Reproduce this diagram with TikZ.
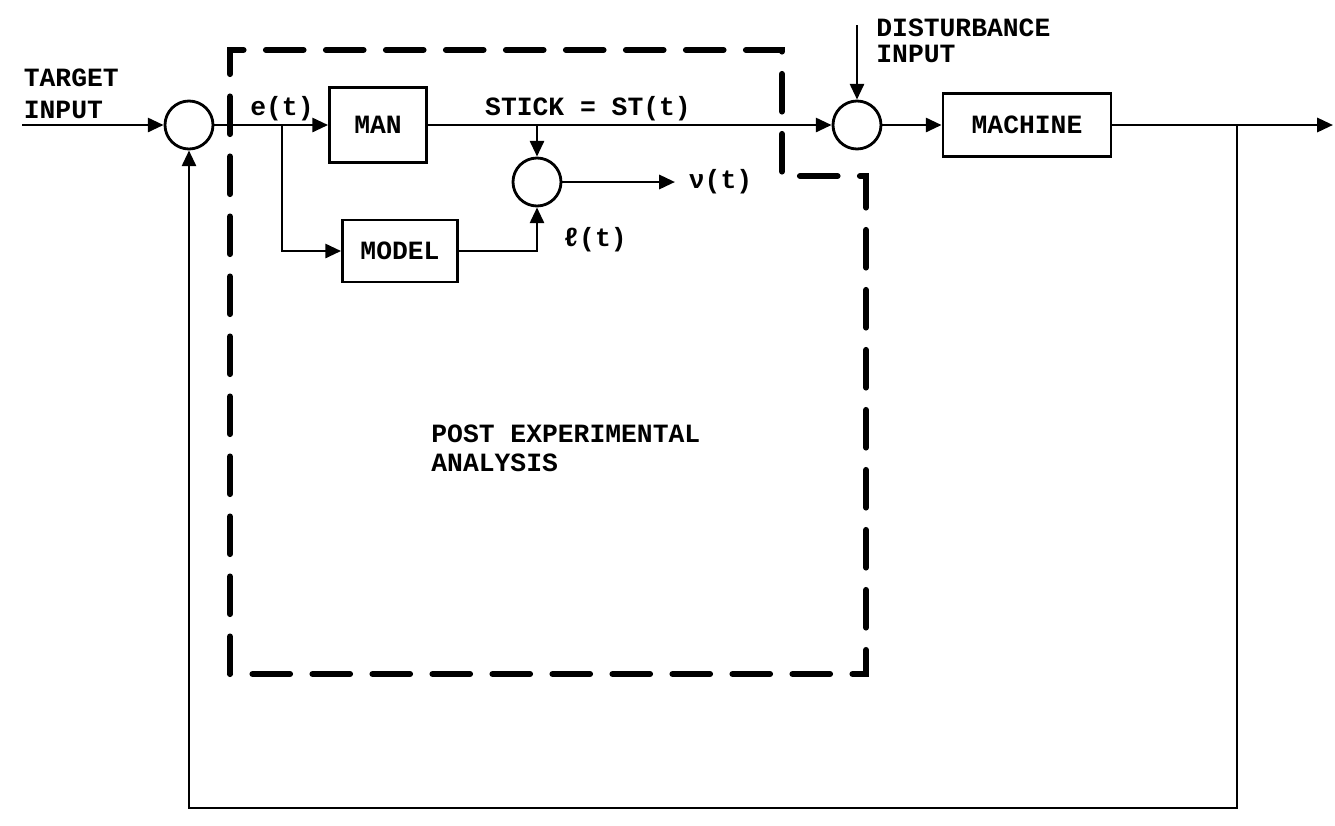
\documentclass[tikz,border=0pt]{standalone}
\usepackage{fontspec}
\newfontfamily\typefont{Liberation Mono}
\usetikzlibrary{positioning, arrows.meta}

\begin{document}
\begin{tikzpicture}[
    >={Triangle[length=9pt, width=8pt]},
    font=\typefont\bfseries\fontsize{15}{18}\selectfont,
    sumjn/.style={circle, draw=black, line width=1.6pt, minimum size=0.96cm, inner sep=0pt},
    blk/.style={rectangle, draw=black, line width=1.6pt, align=center},
    arr/.style={->, line width=1.6pt},
    lbl/.style={inner sep=2pt},
    boundary/.style={line width=3.5pt, dash pattern=on 0.75cm off 0.45cm, line cap=round}
]
\useasboundingbox (0,0) rectangle (26.7,-16.5);

% blocks and summing junctions
\node[sumjn] (sum1) at (3.78,-2.5) {};
\node[blk, minimum width=1.94cm, minimum height=1.5cm] (man) at (7.56,-2.5) {MAN};
\node[blk, minimum width=2.3cm, minimum height=1.24cm] (model) at (8.0,-5.02) {MODEL};
\node[sumjn] (sum2) at (10.74,-3.64) {};
\node[sumjn] (sum3) at (17.14,-2.5) {};
\node[blk, minimum width=3.36cm, minimum height=1.26cm] (machine) at (20.54,-2.5) {MACHINE};

% free ends and taps
\coordinate (tin) at (0.44,-2.5);
\coordinate (tap) at (5.64,-2.5);
\coordinate (stk) at (10.74,-2.5);
\coordinate (vend) at (13.5,-3.64);
\coordinate (dist) at (17.14,-0.5);
\coordinate (tapy) at (24.74,-2.5);
\coordinate (yout) at (26.66,-2.5);
\coordinate (fbR) at (24.74,-16.16);

% labels
\node[lbl, anchor=west, align=left] (tgt) at (0.4,-1.88) {TARGET\\INPUT};
\node[lbl, anchor=south] (elbl) at (tap) {e(t)};
\node[lbl, anchor=south] (sticklbl) at (11.76,-2.5) {STICK = ST(t)};
\node[lbl, right=0.2cm of vend] (vlbl) {ν(t)};
\node[lbl] (ell) at (11.9,-4.8) {ℓ(t)};
\node[lbl, anchor=west, align=left] (distlbl) at (17.45,-0.82) {DISTURBANCE\\[-3pt]INPUT};
\node[lbl, anchor=west, align=left] (post) at (8.55,-8.97) {POST EXPERIMENTAL\\[-1.5pt]ANALYSIS};

% signal paths
\draw[arr] (tin) -- (sum1.west);
\draw[arr] (sum1.east) -- (man.west);
\draw[arr] (tap) |- (model.west);
\draw[arr] (man.east) -- (sum3.west);
\draw[arr] (stk) -- (sum2.north);
\draw[arr] (model.east) -| (sum2.south);
\draw[arr] (sum2.east) -- (vend);
\draw[arr] (dist) -- (sum3.north);
\draw[arr] (sum3.east) -- (machine.west);
\draw[arr] (machine.east) -- (yout);
\draw[arr] (tapy) -- (fbR) -| (sum1.south);

% post experimental analysis boundary
\draw[boundary] (4.6,-13.48) -- (4.6,-1.0) -- (15.64,-1.0) -- (15.64,-3.52)
    -- (17.32,-3.52) -- (17.32,-13.48) -- cycle;
\end{tikzpicture}
\end{document}
